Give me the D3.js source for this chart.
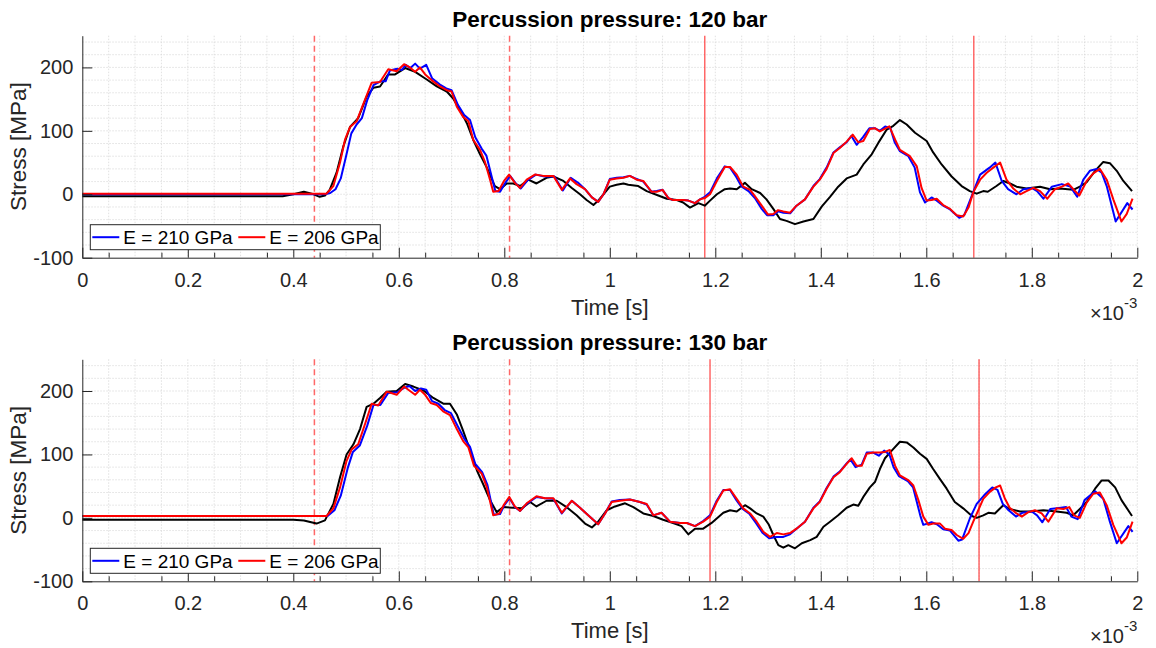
<!DOCTYPE html>
<html>
<head>
<meta charset="utf-8">
<script src="https://d3js.org/d3.v7.min.js"></script>
<style>
  html, body { margin: 0; padding: 0; background: #fff; }
  svg { display: block; font-family: "Liberation Sans", Arial, Helvetica, sans-serif; }
</style>
</head>
<body>
<svg id="chart" width="1156" height="648"></svg>
<script>
/*
** Data - time in ms (axis shows x 10^-3 s), stress in MPa
*/
var xTicks = [0, 0.2, 0.4, 0.6, 0.8, 1, 1.2, 1.4, 1.6, 1.8, 2]
  , yTicks = [-100, 0, 100, 200]
  , legendLabels = ["E = 210 GPa", "E = 206 GPa"]
  , titles = ["Percussion pressure: 120 bar", "Percussion pressure: 130 bar"]
;
// reference lines (ms)
var dashed120 = [0.44, 0.81], solid120 = [1.18, 1.69]
  , dashed130 = [0.44, 0.81], solid130 = [1.19, 1.70]
;

// 120 bar
var sim210_120 = [[0,0],[0.46,0],[0.47,2],[0.48,8],[0.49,25],[0.50,60],[0.51,96],[0.52,110],[0.53,120],[0.54,148],[0.552,172],[0.565,178],[0.575,178],[0.583,195],[0.597,198],[0.606,196],[0.613,204],[0.622,199],[0.631,206],[0.64,198],[0.652,204],[0.663,183],[0.678,173],[0.69,167],[0.70,164],[0.712,141],[0.724,125],[0.735,117],[0.745,90],[0.757,72],[0.766,61],[0.776,28],[0.783,5],[0.792,4],[0.802,18],[0.811,29],[0.822,17],[0.831,9],[0.844,22],[0.86,31],[0.876,28],[0.895,28],[0.911,6],[0.926,26],[0.94,18],[0.953,8],[0.966,-5],[0.978,-12],[0.988,0],[1.0,24],[1.013,26],[1.026,27],[1.038,29],[1.051,24],[1.0635,20],[1.079,4],[1.089,5],[1.1,7],[1.111,-6],[1.12,-9],[1.139,-9],[1.149,-10],[1.1615,-14],[1.171,-8],[1.18,-4],[1.19,3],[1.203,25],[1.218,44],[1.228,42],[1.24,27],[1.25,12],[1.263,5],[1.275,-6],[1.288,-23],[1.298,-33],[1.31,-33],[1.319,-27],[1.329,-29],[1.342,-30],[1.354,-18],[1.37,-8],[1.386,13],[1.398,24],[1.411,42],[1.424,66],[1.436,74],[1.449,82],[1.458,92],[1.468,78],[1.48,90],[1.492,104],[1.503,104],[1.512,100],[1.522,107],[1.532,104],[1.54,82],[1.55,68],[1.566,60],[1.578,42],[1.588,3],[1.5976,-13],[1.61,-5],[1.62,-10],[1.632,-18],[1.645,-24],[1.6625,-37],[1.672,-33],[1.686,-3],[1.702,31],[1.72,42],[1.731,50],[1.743,21],[1.755,8],[1.771,0],[1.784,8],[1.8,10],[1.81,5],[1.822,-7],[1.838,12],[1.857,16],[1.873,12],[1.886,-4],[1.8977,23],[1.91,37],[1.923,40],[1.9325,34],[1.942,13],[1.959,-43],[1.981,-14],[1.991,-24]];
var sim206_120 = [[0,1],[0.463,1],[0.476,13],[0.4886,50],[0.498,86],[0.5075,106],[0.52,115],[0.533,143],[0.5486,176],[0.5644,177],[0.58,197],[0.596,194],[0.61,205],[0.621,200],[0.631,193],[0.64,200],[0.65,189],[0.662,180],[0.678,170],[0.691,164],[0.70,162],[0.71,138],[0.722,122],[0.732,115],[0.741,86],[0.754,70],[0.763,52],[0.773,23],[0.779,4],[0.789,5],[0.7995,21],[0.809,31],[0.82,18],[0.83,10],[0.8425,23],[0.858,31],[0.874,29],[0.893,29],[0.909,7],[0.9246,25],[0.937,16],[0.953,8],[0.966,-5],[0.978,-12],[0.988,0],[1.0,23],[1.013,25],[1.026,26],[1.038,29],[1.051,23],[1.0635,21],[1.079,4],[1.089,4],[1.1,7],[1.111,-6],[1.12,-9],[1.139,-9],[1.149,-10],[1.1615,-14],[1.171,-8],[1.18,-6],[1.19,0],[1.203,21],[1.218,43],[1.228,43],[1.2406,31],[1.253,12],[1.266,7],[1.275,-3],[1.288,-18],[1.30,-32],[1.31,-31],[1.319,-25],[1.329,-27],[1.3416,-29],[1.354,-18],[1.37,-8],[1.386,12],[1.398,23],[1.411,40],[1.424,65],[1.436,73],[1.449,83],[1.4605,94],[1.471,82],[1.4806,84],[1.493,103],[1.503,104],[1.512,99],[1.53,107],[1.541,86],[1.55,70],[1.569,60],[1.582,44],[1.591,10],[1.6007,-10],[1.61,-9],[1.6197,-7],[1.632,-17],[1.645,-23],[1.6576,-33],[1.67,-35],[1.68,-21],[1.689,3],[1.702,23],[1.7145,34],[1.727,42],[1.74,50],[1.752,23],[1.765,9],[1.778,0],[1.79,5],[1.803,10],[1.8156,5],[1.8294,-7],[1.844,8],[1.857,12],[1.869,17],[1.8787,8],[1.89,-2],[1.904,21],[1.9166,33],[1.929,40],[1.942,23],[1.9545,-8],[1.97,-43],[1.98,-31],[1.991,-7]];
var meas_120 = [[0,-3],[0.38,-3],[0.40,0],[0.42,4],[0.435,1],[0.45,-4],[0.46,-2],[0.469,7],[0.482,34],[0.495,76],[0.5075,106],[0.523,120],[0.539,154],[0.552,168],[0.5644,170],[0.58,189],[0.593,189],[0.612,199],[0.631,193],[0.653,181],[0.672,170],[0.691,162],[0.703,151],[0.716,133],[0.729,112],[0.741,86],[0.754,63],[0.767,42],[0.782,13],[0.792,8],[0.8046,17],[0.817,17],[0.83,13],[0.8455,23],[0.861,17],[0.88,26],[0.893,28],[0.912,21],[0.928,10],[0.9435,0],[0.956,-9],[0.969,-17],[0.978,-10],[0.988,0],[1.0,12],[1.013,15],[1.026,17],[1.035,15],[1.054,13],[1.07,5],[1.092,-2],[1.108,-7],[1.127,-9],[1.139,-13],[1.152,-21],[1.168,-14],[1.18,-18],[1.19,-10],[1.203,0],[1.218,8],[1.228,9],[1.2406,8],[1.247,12],[1.256,18],[1.269,8],[1.285,2],[1.297,-8],[1.31,-23],[1.3226,-39],[1.335,-42],[1.351,-47],[1.367,-43],[1.386,-39],[1.402,-19],[1.4175,-4],[1.433,12],[1.449,25],[1.468,31],[1.4806,47],[1.4965,63],[1.509,81],[1.525,102],[1.5375,108],[1.55,117],[1.5628,110],[1.5786,97],[1.6007,84],[1.613,66],[1.629,47],[1.648,28],[1.667,13],[1.6825,5],[1.6955,1],[1.708,5],[1.7165,4],[1.733,13],[1.746,21],[1.7587,17],[1.771,12],[1.79,9],[1.8156,12],[1.8346,8],[1.853,9],[1.8787,7],[1.891,12],[1.904,19],[1.92,37],[1.9355,51],[1.948,49],[1.961,37],[1.9735,21],[1.99,5]];

// 130 bar
var sim210_130 = [[0,3],[0.465,3],[0.478,12],[0.49,35],[0.503,78],[0.513,104],[0.526,114],[0.54,145],[0.552,178],[0.565,178],[0.58,197],[0.597,198],[0.61,205],[0.62,208],[0.631,200],[0.642,204],[0.652,202],[0.663,184],[0.675,180],[0.687,170],[0.699,165],[0.712,144],[0.724,125],[0.735,112],[0.745,85],[0.758,72],[0.768,52],[0.78,5],[0.792,6],[0.8,20],[0.81,31],[0.82,17],[0.83,11],[0.8425,22],[0.861,33],[0.877,31],[0.893,30],[0.909,7],[0.928,27],[0.9435,16],[0.959,4],[0.978,-10],[0.991,7],[1.0036,26],[1.019,28],[1.038,29],[1.057,25],[1.07,21],[1.0825,4],[1.098,8],[1.114,-6],[1.133,-8],[1.146,-8],[1.1615,-13],[1.177,-5],[1.19,4],[1.2027,27],[1.2152,44],[1.228,44],[1.24,28],[1.252,14],[1.265,6],[1.277,-8],[1.29,-24],[1.302,-32],[1.316,-30],[1.329,-30],[1.3416,-26],[1.354,-17],[1.37,-6],[1.386,16],[1.398,26],[1.411,47],[1.424,65],[1.436,73],[1.449,86],[1.456,92],[1.466,80],[1.4775,84],[1.487,103],[1.4995,103],[1.51,98],[1.52,106],[1.53,100],[1.538,80],[1.548,66],[1.565,58],[1.575,48],[1.5885,4],[1.5943,-11],[1.61,-7],[1.62,-10],[1.632,-18],[1.645,-20],[1.6607,-36],[1.668,-34],[1.6825,-1],[1.6955,22],[1.71,36],[1.725,48],[1.735,44],[1.745,22],[1.756,12],[1.77,2],[1.782,8],[1.8,10],[1.81,4],[1.82,-7],[1.835,14],[1.855,16],[1.865,17],[1.875,2],[1.887,-2],[1.9,28],[1.92,42],[1.9355,30],[1.948,-6],[1.9611,-40],[1.983,-13],[1.991,-22]];
var sim206_130 = [[0,3],[0.463,3],[0.476,15],[0.4886,48],[0.501,90],[0.5107,108],[0.523,116],[0.536,148],[0.5486,180],[0.561,177],[0.577,199],[0.596,194],[0.61,207],[0.618,202],[0.631,194],[0.64,202],[0.65,194],[0.6605,181],[0.672,178],[0.684,168],[0.697,162],[0.71,140],[0.722,121],[0.732,111],[0.7426,82],[0.757,70],[0.767,48],[0.779,4],[0.7905,7],[0.7995,21],[0.8095,33],[0.82,18],[0.83,11],[0.8425,23],[0.861,34],[0.877,31],[0.893,31],[0.909,8],[0.928,27],[0.9435,16],[0.959,4],[0.978,-10],[0.991,7],[1.0036,25],[1.019,27],[1.038,29],[1.057,25],[1.07,22],[1.0825,4],[1.098,8],[1.114,-6],[1.133,-8],[1.146,-8],[1.1615,-13],[1.177,-6],[1.19,2],[1.2027,25],[1.2152,43],[1.228,45],[1.2406,30],[1.253,15],[1.266,7],[1.2785,-6],[1.291,-22],[1.3037,-30],[1.3165,-24],[1.329,-26],[1.3416,-24],[1.354,-17],[1.37,-6],[1.386,15],[1.398,25],[1.411,46],[1.424,64],[1.436,72],[1.449,85],[1.4586,94],[1.468,82],[1.4775,82],[1.487,101],[1.4995,103],[1.512,103],[1.5217,104],[1.531,107],[1.541,82],[1.55,67],[1.5665,59],[1.5755,51],[1.585,28],[1.5943,2],[1.604,-11],[1.613,-9],[1.626,-9],[1.6355,-17],[1.648,-19],[1.6576,-27],[1.67,-33],[1.68,-24],[1.689,-6],[1.6985,12],[1.708,30],[1.7204,41],[1.7317,48],[1.74,51],[1.7487,31],[1.758,16],[1.771,7],[1.781,2],[1.7934,9],[1.806,12],[1.8187,7],[1.8313,-6],[1.847,15],[1.86,14],[1.871,17],[1.88,4],[1.891,0],[1.904,24],[1.9166,38],[1.929,40],[1.942,20],[1.9545,-11],[1.97,-40],[1.98,-31],[1.991,-6]];
var meas_130 = [[0,-3],[0.40,-3],[0.42,-4],[0.444,-9],[0.46,-4],[0.476,22],[0.4886,64],[0.501,100],[0.514,116],[0.5265,140],[0.539,175],[0.552,180],[0.5644,189],[0.577,199],[0.596,200],[0.612,211],[0.6275,207],[0.6465,201],[0.6654,189],[0.6844,180],[0.697,180],[0.71,163],[0.722,137],[0.735,107],[0.748,75],[0.76,53],[0.773,28],[0.7856,9],[0.798,17],[0.817,16],[0.833,15],[0.849,25],[0.861,18],[0.88,27],[0.8995,27],[0.918,17],[0.937,4],[0.953,-9],[0.966,-15],[0.978,-6],[0.994,12],[1.01,18],[1.029,23],[1.0446,17],[1.0635,7],[1.0825,3],[1.101,-3],[1.12,-8],[1.136,-13],[1.149,-26],[1.1615,-17],[1.177,-17],[1.193,-8],[1.2027,-1],[1.2152,8],[1.228,12],[1.2406,10],[1.2563,20],[1.266,15],[1.2785,7],[1.291,2],[1.301,-10],[1.31,-27],[1.3195,-43],[1.329,-47],[1.3385,-43],[1.351,-48],[1.364,-40],[1.38,-35],[1.3922,-30],[1.405,-14],[1.4175,-6],[1.433,4],[1.449,16],[1.4617,21],[1.471,19],[1.4806,33],[1.493,48],[1.503,57],[1.512,77],[1.5217,94],[1.5345,106],[1.55,120],[1.5628,119],[1.5755,111],[1.588,101],[1.6007,93],[1.613,77],[1.626,61],[1.6386,46],[1.654,25],[1.67,15],[1.6865,3],[1.6955,0],[1.708,4],[1.7176,8],[1.73,7],[1.746,20],[1.758,14],[1.7777,10],[1.797,10],[1.822,12],[1.847,10],[1.866,8],[1.8787,4],[1.891,14],[1.904,25],[1.92,46],[1.9325,59],[1.9453,59],[1.958,48],[1.97,28],[1.99,3]];

function StressPanel() {
    /*
    ** Private Variables
    */
    var g
      , width = 1055
      , height = 222
      , title = ""
      , lines = []      // { values, color }, drawn in order
      , legend = []     // { label, color }
      , dashed = []
      , solid = []
      , scale = { x: d3.scaleLinear(), y: d3.scaleLinear() }
      , domain = { x: [0, 2], y: [-100, 250] }
      , axisColor = "#262626"
      , gridColor = "#d9d9d9"
      , markColor = "rgba(255, 40, 40, 0.7)"
    ;
    /*
    ** Main Function Object
    */
    function my(selection) {
        g = selection;
        scale.x.domain(domain.x).range([0, width]);
        scale.y.domain(domain.y).range([height, 0]);

        drawGrid();
        drawMarks();
        drawLines();
        drawAxes();
        drawLabels();
        drawLegend();
    } // my()

    /*
    ** Helper Functions
    */
    function drawGrid() {
        var grid = g.append("g").attr("class", "grid")
            .attr("stroke", gridColor)
            .attr("stroke-width", 0.8)
            .attr("stroke-dasharray", "1.5 1.5")
        ;
        grid.selectAll("line.gx")
            .data(d3.range(1, 41).map(function(i) { return i * 0.05; }))
          .enter().append("line")
            .attr("class", "gx")
            .attr("x1", function(d) { return scale.x(d); })
            .attr("x2", function(d) { return scale.x(d); })
            .attr("y1", 0)
            .attr("y2", height)
        ;
        grid.selectAll("line.gy")
            .data(d3.range(-80, 250, 20))
          .enter().append("line")
            .attr("class", "gy")
            .attr("x1", 0)
            .attr("x2", width)
            .attr("y1", function(d) { return scale.y(d); })
            .attr("y2", function(d) { return scale.y(d); })
        ;
    } // drawGrid()

    function drawMarks() {
        var marks = dashed.map(function(d) { return { t: d, dash: "6 4" }; })
            .concat(solid.map(function(d) { return { t: d, dash: null }; }))
        ;
        g.append("g").attr("class", "marks")
          .selectAll("line")
            .data(marks)
          .enter().append("line")
            .attr("x1", function(d) { return scale.x(d.t); })
            .attr("x2", function(d) { return scale.x(d.t); })
            .attr("y1", 0)
            .attr("y2", height)
            .attr("stroke", markColor)
            .attr("stroke-width", 1.5)
            .attr("stroke-dasharray", function(d) { return d.dash; })
        ;
    } // drawMarks()

    function drawLines() {
        var line = d3.line()
            .x(function(d) { return scale.x(d[0]); })
            .y(function(d) { return scale.y(d[1]); })
        ;
        g.append("g").attr("class", "series")
          .selectAll("path")
            .data(lines)
          .enter().append("path")
            .attr("d", function(d) { return line(d.values); })
            .attr("fill", "none")
            .attr("stroke", function(d) { return d.color; })
            .attr("stroke-width", 2)
            .attr("stroke-linejoin", "round")
        ;
    } // drawLines()

    function drawAxes() {
        // plain hyphen for negatives, as in the original figure
        var fmt = function(d) { return String(+d.toFixed(1)); }
          , xAxis = d3.axisBottom(scale.x)
            .tickValues(xTicks)
            .tickFormat(fmt)
            .tickSizeInner(-10)
            .tickSizeOuter(0)
            .tickPadding(15)
          , xMinor = d3.axisBottom(scale.x)
            .tickValues(d3.range(1, 40, 2).map(function(i) { return i * 0.05; }))
            .tickFormat("")
            .tickSizeInner(-5)
            .tickSizeOuter(0)
          , yAxis = d3.axisLeft(scale.y)
            .tickValues(yTicks)
            .tickFormat(fmt)
            .tickSizeInner(-10)
            .tickSizeOuter(0)
            .tickPadding(9)
        ;
        g.append("g")
            .attr("transform", "translate(0," + height + ")")
            .call(xMinor)
            .call(function(s) { s.select(".domain").remove(); })
            .attr("color", axisColor)
        ;
        [
            g.append("g")
                .attr("transform", "translate(0," + height + ")")
                .call(xAxis)
          , g.append("g").call(yAxis)
        ].forEach(function(a) {
            a.attr("color", axisColor)
              .attr("font-family", null)
              .attr("font-size", 20)
            ;
            a.selectAll("text").attr("fill", axisColor);
        });
        g.selectAll(".tick line, .domain").attr("stroke-width", 1);
    } // drawAxes()

    function drawLabels() {
        g.append("text")
            .attr("x", width / 2)
            .attr("y", -9)
            .attr("text-anchor", "middle")
            .attr("font-size", 22.5)
            .attr("font-weight", "bold")
            .attr("fill", "#000")
            .text(title)
        ;
        g.append("text")
            .attr("x", width / 2)
            .attr("y", height + 57)
            .attr("text-anchor", "middle")
            .attr("font-size", 22)
            .attr("fill", axisColor)
            .text("Time [s]")
        ;
        g.append("text")
            .attr("transform", "translate(-56," + (height / 2) + ") rotate(-90)")
            .attr("text-anchor", "middle")
            .attr("font-size", 22.5)
            .attr("fill", axisColor)
            .text("Stress [MPa]")
        ;
        var expo = g.append("text")
            .attr("x", width)
            .attr("y", height + 62)
            .attr("text-anchor", "end")
            .attr("font-size", 20)
            .attr("fill", axisColor)
        ;
        expo.append("tspan").text("\u00d710");
        expo.append("tspan")
            .attr("font-size", 15)
            .attr("dy", -12)
            .text("-3")
        ;
    } // drawLabels()

    function drawLegend() {
        var box = g.append("g").attr("class", "legend")
            .attr("transform", "translate(8," + (height - 33) + ")")
        ;
        box.append("rect")
            .attr("width", 290)
            .attr("height", 25)
            .attr("fill", "#fff")
            .attr("stroke", axisColor)
            .attr("stroke-width", 1)
        ;
        var item = box.selectAll("g.item")
            .data(legend)
          .enter().append("g")
            .attr("class", "item")
            .attr("transform", function(d, i) { return "translate(" + (i * 146) + ",0)"; })
        ;
        item.append("line")
            .attr("x1", 2)
            .attr("x2", 29)
            .attr("y1", 12.5)
            .attr("y2", 12.5)
            .attr("stroke", function(d) { return d.color; })
            .attr("stroke-width", 2)
        ;
        item.append("text")
            .attr("x", 33)
            .attr("y", 19.3)
            .attr("font-size", 19)
            .attr("fill", "#000")
            .text(function(d) { return d.label; })
        ;
    } // drawLegend()

    /*
    ** API (Getter/Setter) Functions
    */
    my.title = function(value) {
        if(!arguments.length) return title;
        title = value;
        return my;
      } // my.title()
    ;
    my.lines = function(value) {
        if(!arguments.length) return lines;
        lines = value;
        return my;
      } // my.lines()
    ;
    my.legend = function(value) {
        if(!arguments.length) return legend;
        legend = value;
        return my;
      } // my.legend()
    ;
    my.marks = function(d, s) {
        dashed = d;
        solid = s;
        return my;
      } // my.marks()
    ;
    my.height = function(value) {
        if(!arguments.length) return height;
        height = value;
        return my;
      } // my.height()
    ;

    return my;
} // StressPanel()

/*
** Build the figure
*/
var svg = d3.select("#chart")
  , blue = "#0000ff", red = "#ff0000", black = "#000000"
  , legendItems = [
        { label: legendLabels[0], color: blue }
      , { label: legendLabels[1], color: red }
    ]
  , panels = [
        { top: 35.7, title: titles[0], sim210: sim210_120, sim206: sim206_120, meas: meas_120, dashed: dashed120, solid: solid120 }
      , { top: 359.3, title: titles[1], sim210: sim210_130, sim206: sim206_130, meas: meas_130, dashed: dashed130, solid: solid130 }
    ]
;
panels.forEach(function(p) {
    var panel = StressPanel()
        .title(p.title)
        .lines([
              { values: p.meas, color: black }
            , { values: p.sim210, color: blue }
            , { values: p.sim206, color: red }
          ])
        .legend(legendItems)
        .marks(p.dashed, p.solid)
    ;
    svg.append("g")
        .attr("transform", "translate(82.3," + p.top + ")")
        .call(panel)
    ;
});
</script>
</body>
</html>
